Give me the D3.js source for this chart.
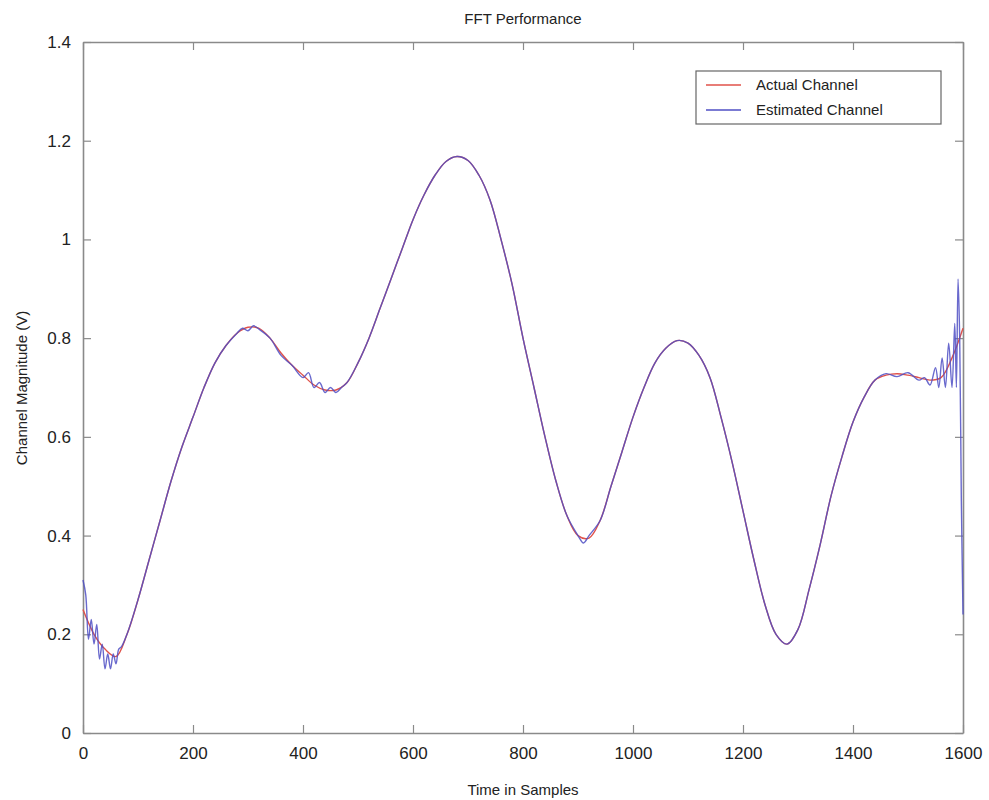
<!DOCTYPE html>
<html>
<head>
<meta charset="utf-8">
<script src="https://cdn.jsdelivr.net/npm/d3@7/dist/d3.min.js"></script>
<style>
  body { margin: 0; background: #fff; }
  text { font-family: "Liberation Sans", Arial, sans-serif; fill: #222; }
</style>
</head>
<body>
<svg id="chart" width="989" height="800"></svg>
<script>
// Channel magnitude over time (samples)
const actualX = d3.range(0, 1601, 20);
const actualY = [
  0.25, 0.20, 0.17, 0.155, 0.20, 0.27, 0.35, 0.43, 0.51, 0.58,
  0.64, 0.70, 0.75, 0.785, 0.81, 0.822, 0.82, 0.80, 0.77, 0.745,
  0.725, 0.705, 0.695, 0.695, 0.71, 0.75, 0.80, 0.86, 0.92, 0.98,
  1.04, 1.09, 1.13, 1.158, 1.168, 1.16, 1.13, 1.08, 1.00, 0.91,
  0.80, 0.70, 0.60, 0.51, 0.44, 0.40, 0.395, 0.43, 0.50, 0.57,
  0.64, 0.70, 0.75, 0.78, 0.795, 0.79, 0.765, 0.72, 0.64, 0.55,
  0.45, 0.35, 0.26, 0.20, 0.18, 0.21, 0.29, 0.38, 0.48, 0.56,
  0.63, 0.68, 0.715, 0.725, 0.728, 0.725, 0.72, 0.715, 0.72, 0.76,
  0.82
];

const estX = [
  0, 5, 10, 15, 20, 25, 30, 35, 40, 45, 50, 55, 60, 65, 70, 80,
  100, 120, 140, 160, 180, 200, 220, 240, 260, 280, 290, 300, 310, 320, 340, 360,
  380, 400, 410, 420, 430, 440, 450, 460, 470, 480, 500, 520, 540, 560, 580,
  600, 620, 640, 660, 680, 700, 720, 740, 760, 780, 800, 820, 840, 860, 880,
  900, 910, 920, 940, 960, 980, 1000, 1020, 1040, 1060, 1080, 1100, 1120, 1140,
  1160, 1180, 1200, 1220, 1240, 1260, 1280, 1300, 1320, 1340, 1360, 1380, 1400,
  1420, 1440, 1460, 1480, 1500, 1520, 1530, 1540, 1550, 1556, 1562, 1568, 1574,
  1580, 1585, 1588, 1591, 1594, 1597, 1600
];
const estY = [
  0.31, 0.28, 0.19, 0.23, 0.18, 0.22, 0.15, 0.18, 0.13, 0.16, 0.13, 0.16, 0.14, 0.17, 0.175, 0.20,
  0.27, 0.35, 0.43, 0.51, 0.58, 0.64, 0.70, 0.75, 0.785, 0.81, 0.82, 0.815, 0.825, 0.818, 0.80, 0.765,
  0.745, 0.72, 0.73, 0.70, 0.71, 0.69, 0.70, 0.69, 0.70, 0.71, 0.75, 0.80, 0.86, 0.92, 0.98,
  1.04, 1.09, 1.13, 1.158, 1.168, 1.16, 1.13, 1.08, 1.00, 0.91, 0.80, 0.70, 0.60, 0.51, 0.44,
  0.40, 0.385, 0.40, 0.43, 0.50, 0.57, 0.64, 0.70, 0.75, 0.78, 0.795, 0.79, 0.765, 0.72,
  0.64, 0.55, 0.45, 0.35, 0.26, 0.20, 0.18, 0.21, 0.29, 0.38, 0.48, 0.56, 0.63,
  0.68, 0.715, 0.728, 0.722, 0.73, 0.715, 0.72, 0.705, 0.74, 0.70, 0.76, 0.70, 0.79,
  0.70, 0.83, 0.70, 0.92, 0.80, 0.47, 0.24
];

const xTicks = [0, 200, 400, 600, 800, 1000, 1200, 1400, 1600];
const yTicks = [0, 0.2, 0.4, 0.6, 0.8, 1, 1.2, 1.4];
const seriesNames = ["Actual Channel", "Estimated Channel"];
const seriesColors = ["#e0524a", "#4f4fc4"];

const svg = d3.select("#chart");
const m = { left: 83, right: 963, top: 42, bottom: 733 };
const x = d3.scaleLinear().domain([0, 1600]).range([m.left, m.right]);
const y = d3.scaleLinear().domain([0, 1.4]).range([m.bottom, m.top]);
const axisColor = "#8a8a8a";
const tickLen = 8;
const fmt = d => String(+d.toFixed(1));

// Axes with inward ticks on all four sides
function styleAxis(g) {
  g.selectAll("path.domain").attr("stroke", axisColor).attr("stroke-width", 1.6);
  g.selectAll(".tick line").attr("stroke", axisColor).attr("stroke-width", 1.2);
  g.selectAll(".tick text").attr("font-size", 17).attr("fill", "#222")
    .attr("font-family", "Liberation Sans, Arial, sans-serif");
}
svg.append("g").attr("transform", `translate(0,${m.bottom})`)
  .call(d3.axisBottom(x).tickValues(xTicks).tickSizeInner(-tickLen).tickSizeOuter(0).tickPadding(14).tickFormat(d3.format("d")))
  .call(styleAxis);
svg.append("g").attr("transform", `translate(0,${m.top})`)
  .call(d3.axisTop(x).tickValues(xTicks).tickSizeInner(-tickLen).tickSizeOuter(0).tickFormat(""))
  .call(styleAxis);
svg.append("g").attr("transform", `translate(${m.left},0)`)
  .call(d3.axisLeft(y).tickValues(yTicks).tickSizeInner(-tickLen).tickSizeOuter(0).tickPadding(12).tickFormat(fmt))
  .call(styleAxis);
svg.append("g").attr("transform", `translate(${m.right},0)`)
  .call(d3.axisRight(y).tickValues(yTicks).tickSizeInner(-tickLen).tickSizeOuter(0).tickFormat(""))
  .call(styleAxis);

// Lines
const line = d3.line().x(d => x(d[0])).y(d => y(d[1])).curve(d3.curveCatmullRom.alpha(0.5));
const actual = actualX.map((v, i) => [v, actualY[i]]);
const est = estX.map((v, i) => [v, estY[i]]);
svg.append("path").datum(actual).attr("d", line)
  .attr("fill", "none").attr("stroke", seriesColors[0]).attr("stroke-width", 1.4);
svg.append("path").datum(est).attr("d", line)
  .attr("fill", "none").attr("stroke", seriesColors[1]).attr("stroke-width", 1.4).attr("opacity", 0.85);

// Titles
svg.append("text").attr("x", 523).attr("y", 24).attr("text-anchor", "middle")
  .attr("font-size", 15).text("FFT Performance");
svg.append("text").attr("x", 523).attr("y", 795).attr("text-anchor", "middle")
  .attr("font-size", 15).text("Time in Samples");
svg.append("text").attr("transform", "translate(27,388) rotate(-90)").attr("text-anchor", "middle")
  .attr("font-size", 15).text("Channel Magnitude (V)");

// Legend
const lg = svg.append("g");
lg.append("rect").attr("x", 696).attr("y", 71).attr("width", 245).attr("height", 53)
  .attr("fill", "#fff").attr("stroke", "#666").attr("stroke-width", 1.2);
seriesNames.forEach((name, i) => {
  const yy = 85 + i * 25;
  lg.append("line").attr("x1", 706).attr("x2", 741).attr("y1", yy).attr("y2", yy)
    .attr("stroke", seriesColors[i]).attr("stroke-width", 1.3);
  lg.append("text").attr("x", 756).attr("y", yy + 5).attr("font-size", 15).text(name);
});
</script>
</body>
</html>
